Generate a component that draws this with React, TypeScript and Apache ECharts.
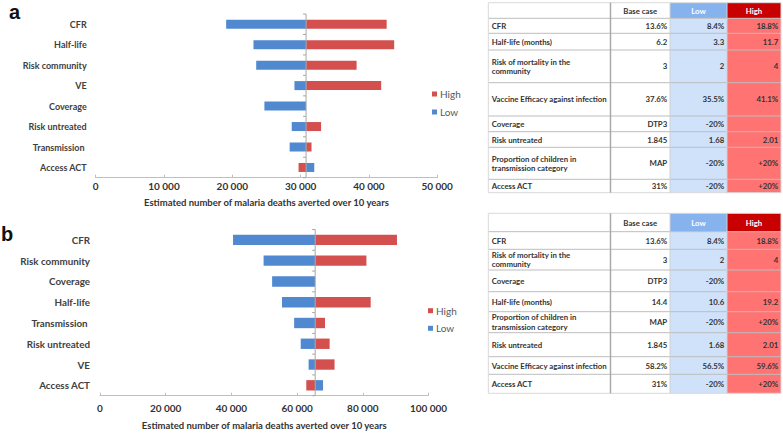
import React, { useEffect, useRef } from 'react';
import * as echarts from 'echarts';

// ---------- Panel a (tornado) ----------
const CATS_A = ['CFR', 'Half-life', 'Risk community', 'VE', 'Coverage', 'Risk untreated', 'Transmission ', 'Access ACT'];
const BASE_A = 30800;
const LOW_A = [19100, 23100, 23500, 29100, 24700, 28700, 28400, 32000];
const HIGH_A: (number | null)[] = [42600, 43700, 38200, 41800, null, 33000, 31600, 29700];
const AXIS_A_MAX = 50000;
const AXIS_A_STEP = 10000;

// ---------- Panel b (tornado) ----------
const CATS_B = ['CFR', 'Risk community', 'Coverage', 'Half-life', 'Transmission ', 'Risk untreated', 'VE', 'Access ACT'];
const BASE_B = 65500;
const LOW_B = [40500, 49800, 52400, 55400, 59100, 61100, 63500, 67900];
const HIGH_B: (number | null)[] = [90400, 81100, null, 82400, 68500, 69900, 71400, 62800];
const AXIS_B_MAX = 100000;
const AXIS_B_STEP = 20000;

const AXIS_TITLE = 'Estimated number of malaria deaths averted over 10 years';
const LEGEND_NAMES = ['High', 'Low'];

// ---------- Tables ----------
const TABLE_HEAD = ['', 'Base case', 'Low', 'High'];

const TA_LABELS = ['CFR', 'Half-life (months)', 'Risk of mortality in the\ncommunity', 'Vaccine Efficacy against infection', 'Coverage', 'Risk untreated', 'Proportion of children in\ntransmission category', 'Access ACT'];
const TA_BASE = ['13.6%', '6.2', '3', '37.6%', 'DTP3', '1.845', 'MAP', '31%'];
const TA_LOW = ['8.4%', '3.3', '2', '35.5%', '-20%', '1.68', '-20%', '-20%'];
const TA_HIGH = ['18.8%', '11.7', '4', '41.1%', '', '2.01', '+20%', '+20%'];

const TB_LABELS = ['CFR', 'Risk of mortality in the\ncommunity', 'Coverage', 'Half-life (months)', 'Proportion of children in\ntransmission category', 'Risk untreated', 'Vaccine Efficacy against infection', 'Access ACT'];
const TB_BASE = ['13.6%', '3', 'DTP3', '14.4', 'MAP', '1.845', '58.2%', '31%'];
const TB_LOW = ['8.4%', '2', '-20%', '10.6', '-20%', '1.68', '56.5%', '-20%'];
const TB_HIGH = ['18.8%', '4', '', '19.2', '+20%', '2.01', '59.6%', '+20%'];

// layout (positions only)
const COL_X = [488.3, 610.5, 670, 727, 781];
const ROW_Y_A = [2.7, 18.3, 33.3, 50, 82.7, 116, 131.7, 147.3, 179.3, 192.7];
const ROW_Y_B = [213.3, 231.7, 249.3, 270, 291.7, 311.7, 332.7, 356.7, 374.3, 393.3];

const BLUE = '#5089d0';
const RED = '#d4504f';
const FONT = 'Lato';

const fmt = (v: number) => String(v).replace(/\B(?=(\d{3})+(?!\d))/g, ' ');

function barRenderer(base: number, ratio: number) {
  return (params: any, api: any) => {
    const v = api.value(0);
    const idx = api.value(1);
    if (v == null || isNaN(v)) return null;
    const p0 = api.coord([base, idx]);
    const p1 = api.coord([v, idx]);
    const h = api.size([0, 1])[1] * ratio;
    return {
      type: 'rect',
      shape: { x: Math.min(p0[0], p1[0]), y: p0[1] - h / 2, width: Math.abs(p1[0] - p0[0]), height: h },
      style: { fill: api.visual('color') },
    };
  };
}

function axisRenderer(count: number) {
  return (params: any, api: any) => {
    const base = api.value(0);
    const idx = api.value(1);
    const p = api.coord([base, idx]);
    const bh = api.size([0, 1])[1];
    const top = p[1] - bh / 2;
    const bot = p[1] + bh / 2;
    const children: any[] = [
      { type: 'line', shape: { x1: p[0], y1: top, x2: p[0], y2: bot }, style: { stroke: '#a6a6a6', lineWidth: 1 } },
      { type: 'line', shape: { x1: p[0] - 3, y1: top, x2: p[0], y2: top }, style: { stroke: '#a6a6a6', lineWidth: 1 } },
    ];
    if (idx === count - 1) {
      children.push({ type: 'line', shape: { x1: p[0] - 3, y1: bot, x2: p[0], y2: bot }, style: { stroke: '#a6a6a6', lineWidth: 1 } });
    }
    return { type: 'group', children };
  };
}

function buildTable(rowY: number[], labels: string[], base: string[], low: string[], high: string[]) {
  const els: any[] = [];
  const L = COL_X[0], R = COL_X[4], T = rowY[0], H1 = rowY[1], B = rowY[rowY.length - 1];
  const rect = (x: number, y: number, w: number, h: number, fill: string) =>
    els.push({ type: 'rect', shape: { x, y, width: w, height: h }, style: { fill }, silent: true });
  rect(L, T, R - L, B - T, '#ffffff');
  rect(COL_X[2], T, COL_X[3] - COL_X[2], H1 - T, '#86b3ee');
  rect(COL_X[2], H1, COL_X[3] - COL_X[2], B - H1, '#cfe2fa');
  rect(COL_X[3], T, R - COL_X[3], H1 - T, '#c80000');
  rect(COL_X[3], H1, R - COL_X[3], B - H1, '#ff7373');
  const line = (x1: number, y1: number, x2: number, y2: number, stroke: string, w = 1) =>
    els.push({ type: 'line', shape: { x1, y1, x2, y2 }, style: { stroke, lineWidth: w }, silent: true });
  rowY.forEach((y, i) => line(L, y, R, y, i === 0 || i === rowY.length - 1 ? '#d9d9d9' : '#bdbdbd'));
  line(L, T, L, B, '#d9d9d9');
  line(R, T, R, B, '#d9d9d9');
  line(COL_X[1], T, COL_X[1], B, '#a9a9a9', 1.5);
  line(COL_X[2], T, COL_X[2], B, '#d0d0d0');
  line(COL_X[3], T, COL_X[3], B, '#d0d0d0');
  const text = (t: string, x: number, y: number, align: string, fill = '#333333') =>
    els.push({
      type: 'text', x, y, silent: true,
      style: { text: t, fill, fontFamily: FONT, fontWeight: 'bold', fontSize: 7.8, align, verticalAlign: 'middle', lineHeight: 9.5 },
    });
  const hy = (T + H1) / 2;
  text(TABLE_HEAD[1], (COL_X[1] + COL_X[2]) / 2, hy, 'center');
  text(TABLE_HEAD[2], (COL_X[2] + COL_X[3]) / 2, hy, 'center', '#ffffff');
  text(TABLE_HEAD[3], (COL_X[3] + COL_X[4]) / 2, hy, 'center', '#ffffff');
  labels.forEach((lab, i) => {
    const cy = (rowY[i + 1] + rowY[i + 2]) / 2;
    text(lab, L + 3.4, cy, 'left');
    text(base[i], COL_X[2] - 2.8, cy, 'right');
    text(low[i], COL_X[3] - 2.8, cy, 'right');
    if (high[i]) text(high[i], COL_X[4] - 2.8, cy, 'right');
  });
  return els;
}

function xAxisCfg(gridIndex: number, max: number, step: number, labelMargin: number, nameGap: number) {
  return {
    type: 'value', gridIndex, min: 0, max, interval: step,
    axisLine: { show: true, lineStyle: { color: '#bfbfbf', width: 1 } },
    axisTick: { show: true, inside: true, length: 3, lineStyle: { color: '#bfbfbf' } },
    splitLine: { show: false },
    axisLabel: { formatter: (v: number) => fmt(v), fontFamily: FONT, fontWeight: 'bold', fontSize: 10, color: '#333333', margin: labelMargin },
    name: AXIS_TITLE, nameLocation: 'middle', nameGap,
    nameTextStyle: { fontFamily: FONT, fontWeight: 'bold', fontSize: 9.5, color: '#333333' },
  };
}

function yAxisCfg(gridIndex: number, cats: string[], fontSize: number, margin: number) {
  return {
    type: 'category', gridIndex, data: cats, inverse: true,
    axisLine: { show: false }, axisTick: { show: false }, splitLine: { show: false },
    axisLabel: { fontFamily: FONT, fontWeight: 'bold', fontSize, color: '#404040', margin },
  };
}

export default function App() {
  const ref = useRef<HTMLDivElement>(null);
  useEffect(() => {
    if (!ref.current) return;
    const chart = echarts.init(ref.current, undefined, { renderer: 'svg' });
    const series: any[] = [];
    const addPanel = (axisIdx: number, cats: string[], base: number, low: number[], high: (number | null)[], ratio: number) => {
      series.push({
        type: 'custom', name: 'High', xAxisIndex: axisIdx, yAxisIndex: axisIdx,
        itemStyle: { color: RED }, encode: { x: 0, y: 1 },
        renderItem: barRenderer(base, ratio),
        data: high.map((v, i) => [v == null ? NaN : v, i]),
        z: 2,
      });
      series.push({
        type: 'custom', name: 'Low', xAxisIndex: axisIdx, yAxisIndex: axisIdx,
        itemStyle: { color: BLUE }, encode: { x: 0, y: 1 },
        renderItem: barRenderer(base, ratio),
        data: low.map((v, i) => [v, i]),
        z: 2,
      });
      series.push({
        type: 'custom', name: 'base' + axisIdx, xAxisIndex: axisIdx, yAxisIndex: axisIdx,
        encode: { x: 0, y: 1 }, renderItem: axisRenderer(cats.length),
        data: cats.map((_, i) => [base, i]),
        z: 5, silent: true,
      });
    };
    addPanel(0, CATS_A, BASE_A, LOW_A, HIGH_A, 0.44);
    addPanel(1, CATS_B, BASE_B, LOW_B, HIGH_B, 0.5);

    const legendCfg = (left: number, top: number, gap: number) => ({
      orient: 'vertical', left, top, padding: 0, itemWidth: 5, itemHeight: 5, itemGap: gap, icon: 'rect',
      data: LEGEND_NAMES, selectedMode: false,
      textStyle: { fontFamily: FONT, fontSize: 10, color: '#595959', lineHeight: 12, padding: [0, 0, 0, -2] },
    });

    chart.setOption({
      animation: false,
      backgroundColor: '#ffffff',
      grid: [
        { left: 95.7, top: 14, width: 341.5, height: 163.7 },
        { left: 100, top: 229.5, width: 328.5, height: 166.2 },
      ],
      xAxis: [
        xAxisCfg(0, AXIS_A_MAX, AXIS_A_STEP, 3, 20),
        xAxisCfg(1, AXIS_B_MAX, AXIS_B_STEP, 7, 25),
      ],
      yAxis: [yAxisCfg(0, CATS_A, 9, 9), yAxisCfg(1, CATS_B, 9.8, 10)],
      legend: [legendCfg(432, 88, 6), legendCfg(428, 304.7, 5.6)],
      series,
      graphic: [
        { type: 'text', x: 9, y: 2, silent: true, style: { text: 'a', fontFamily: 'Liberation Sans', fontWeight: 'bold', fontSize: 20, fill: '#111111' } },
        { type: 'text', x: 1, y: 224, silent: true, style: { text: 'b', fontFamily: 'Liberation Sans', fontWeight: 'bold', fontSize: 20, fill: '#111111' } },
        ...buildTable(ROW_Y_A, TA_LABELS, TA_BASE, TA_LOW, TA_HIGH),
        ...buildTable(ROW_Y_B, TB_LABELS, TB_BASE, TB_LOW, TB_HIGH),
      ],
    });
    return () => chart.dispose();
  }, []);
  return <div ref={ref} style={{ position: 'absolute', left: 0, top: 0, width: 783, height: 433, background: '#fff' }} />;
}
